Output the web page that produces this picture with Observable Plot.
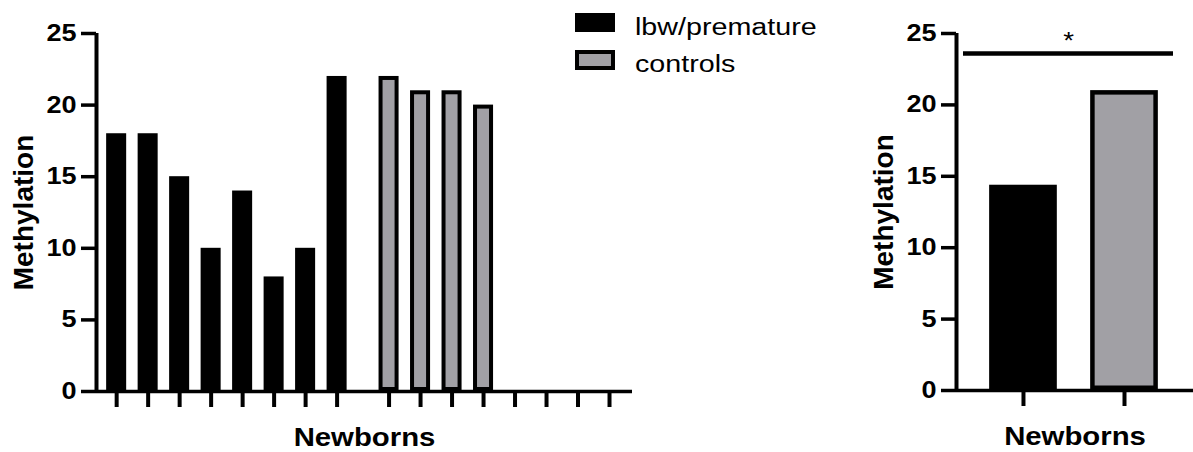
<!DOCTYPE html>
<html>
<head>
<meta charset="utf-8">
<script src="https://cdn.jsdelivr.net/npm/d3@7"></script>
<script src="https://cdn.jsdelivr.net/npm/@observablehq/plot@0.6"></script>
<style>
  html, body { margin: 0; padding: 0; background: #ffffff; }
  #fig { position: relative; width: 1193px; height: 452px; overflow: hidden; background: #ffffff; }
  #fig > svg { position: absolute; top: 0; }
</style>
</head>
<body>
<div id="fig"></div>
<script>
// ---- data ----
const groups = ["lbw/premature", "controls"];
const lbwValues = [18, 18, 15, 10, 14, 8, 10, 22];
const controlValues = [22, 21, 21, 20];
const slotsPerGroup = 8;              // tick slots per group on the per-subject panel
const yTicks = [0, 5, 10, 15, 20, 25];
const yMax = 25;
const sigLevel = 23.6;                // height of the significance bar
const sigLabel = "*";
const xTitle = "Newborns";
const yTitle = "Methylation";

// ---- styling ----
const FONT = "'Liberation Sans', Arial, Helvetica, sans-serif";
const GREY = "#a1a0a5";
const groupFill = {"lbw/premature": "#000000", "controls": GREY};
const WIDEN = 1.15;                   // horizontal set-width of the lettering

const fig = d3.select("#fig");

// stretch horizontal labels to a wider set (rotated titles are left alone)
function widen(svg, k) {
  d3.select(svg).selectAll("text").each(function () {
    const m = this.getCTM();
    if (m && Math.abs(m.b) > 1e-6) return;
    const w = this.getComputedTextLength();
    if (w > 0) {
      this.setAttribute("textLength", (w * k).toFixed(2));
      this.setAttribute("lengthAdjust", "spacingAndGlyphs");
    }
  });
}

const axisMarks = (xStart, tickValues) => [
  Plot.axisY(yTicks, {
    tickSize: 15, tickPadding: 5, strokeWidth: 3.5,
    fontSize: 23.5, fontWeight: "bold", fontFamily: FONT, label: null
  }),
  Plot.axisX(tickValues, {
    tickSize: 16, strokeWidth: 4, tickFormat: () => "", label: null
  }),
  Plot.ruleX([xStart], {y1: 0, y2: yMax, strokeWidth: 4}),
  Plot.ruleY([0], {strokeWidth: 3.5}),
  Plot.text([yTitle], {
    frameAnchor: "left", textAnchor: "middle", rotate: -90, dx: -72,
    fontSize: 28, fontWeight: "bold", fontFamily: FONT, fill: "black"
  }),
  Plot.text([xTitle], {
    frameAnchor: "bottom", lineAnchor: "bottom", dy: 54,
    fontSize: 25.5, fontWeight: "bold", fontFamily: FONT, fill: "black"
  })
];

// ---- left panel: one bar per newborn ----
const groupGap = 1.65;                 // extra space between groups, in slot units
const slotX = (g, i) => i + g * (slotsPerGroup - 1 + groupGap);
const subjects = [
  ...lbwValues.map((v, i) => ({group: groups[0], slot: slotX(0, i), value: v})),
  ...controlValues.map((v, i) => ({group: groups[1], slot: slotX(1, i), value: v}))
];
const slots = d3.range(groups.length).flatMap(g => d3.range(slotsPerGroup).map(i => slotX(g, i)));
const halfBar = 0.318;
const leftDomain = [-0.64, slotX(1, slotsPerGroup - 1) + 0.73];

const left = Plot.plot({
  width: 650, height: 452,
  marginLeft: 96, marginRight: 18, marginTop: 33, marginBottom: 61,
  x: {type: "linear", domain: leftDomain, axis: null},
  y: {domain: [0, yMax], axis: null},
  style: {fontFamily: FONT, background: "white", color: "black", overflow: "visible"},
  marks: [
    Plot.rectY(subjects.filter(d => d.group === groups[0]), {
      x1: d => d.slot - halfBar, x2: d => d.slot + halfBar, y1: 0, y2: "value",
      fill: groupFill[groups[0]]
    }),
    Plot.rectY(subjects.filter(d => d.group === groups[1]), {
      x1: d => d.slot - halfBar, x2: d => d.slot + halfBar, y1: 0, y2: "value",
      fill: groupFill[groups[1]], stroke: "black", strokeWidth: 4, inset: 2
    }),
    ...axisMarks(leftDomain[0], slots)
  ]
});
left.style.left = "0px";
fig.node().appendChild(left);
widen(left, WIDEN);

// ---- right panel: group means ----
const means = [
  {group: groups[0], pos: 0, value: d3.mean(lbwValues)},
  {group: groups[1], pos: 1, value: d3.mean(controlValues)}
];
const halfMean = 0.335;
const rightDomain = [-0.663, 1.683];
const sigInsetLeft = 7, sigInsetRight = 20;

const right = Plot.plot({
  width: 343, height: 452,
  marginLeft: 106, marginRight: 0, marginTop: 33, marginBottom: 62,
  x: {type: "linear", domain: rightDomain, axis: null},
  y: {domain: [0, yMax], axis: null},
  style: {fontFamily: FONT, background: "white", color: "black", overflow: "visible"},
  marks: [
    Plot.rectY(means.filter(d => d.group === groups[0]), {
      x1: d => d.pos - halfMean, x2: d => d.pos + halfMean, y1: 0, y2: "value",
      fill: groupFill[groups[0]]
    }),
    Plot.rectY(means.filter(d => d.group === groups[1]), {
      x1: d => d.pos - halfMean, x2: d => d.pos + halfMean, y1: 0, y2: "value",
      fill: groupFill[groups[1]], stroke: "black", strokeWidth: 4.5, inset: 2.25
    }),
    Plot.ruleY([sigLevel], {insetLeft: sigInsetLeft, insetRight: sigInsetRight, strokeWidth: 4.5}),
    Plot.text([sigLabel], {
      y: () => sigLevel, frameAnchor: "middle", lineAnchor: "bottom",
      dx: (sigInsetLeft - sigInsetRight) / 2, dy: -4,
      fontSize: 24, fontFamily: FONT, fill: "black"
    }),
    ...axisMarks(rightDomain[0], means.map(d => d.pos))
  ]
});
right.style.left = "850px";
fig.node().appendChild(right);
widen(right, WIDEN);

// ---- legend ----
const legend = fig.append("svg")
  .attr("width", 300).attr("height", 80)
  .style("left", "560px")
  .attr("font-family", FONT);
const rowTop = [13, 50];   // top edge of each swatch
const swW = 40, swH = 20;
// filled swatch for the premature group
legend.append("rect")
  .attr("x", 15).attr("y", rowTop[0]).attr("width", swW).attr("height", swH - 1)
  .attr("fill", groupFill[groups[0]]);
// outlined grey swatch for the controls (stroke kept inside the box)
legend.append("rect")
  .attr("x", 17).attr("y", rowTop[1] + 2).attr("width", swW - 4).attr("height", swH - 4)
  .attr("fill", groupFill[groups[1]])
  .attr("stroke", "black").attr("stroke-width", 4);
legend.selectAll("text.lbl").data(groups).join("text")
  .attr("class", "lbl")
  .attr("x", 75)
  .attr("y", (d, i) => rowTop[i] + 22)
  .attr("font-size", 23.5)
  .attr("fill", "black")
  .text(d => d);
widen(legend.node(), 1.22);
</script>
</body>
</html>
